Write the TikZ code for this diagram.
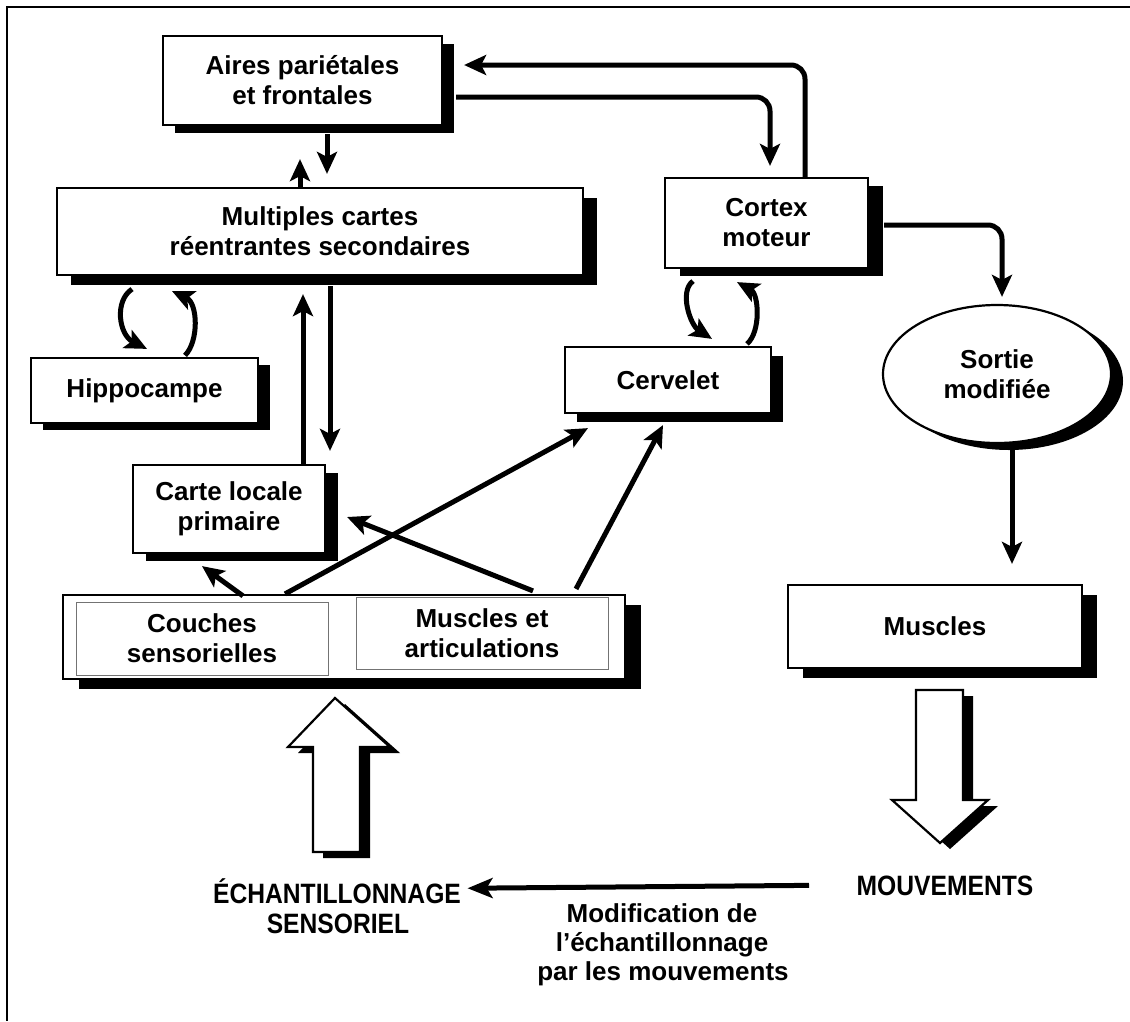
\documentclass[tikz,border=0pt]{standalone}
\usepackage{fontspec}
\setmainfont{Liberation Sans}
\newfontfamily\condfamily{Liberation Sans}[FakeStretch=0.88]
\usetikzlibrary{arrows.meta,shapes.geometric,shadows,calc}
\newcommand\boxfont{\bfseries\fontsize{26}{30}\selectfont}
\newcommand\capfont{\condfamily\bfseries\fontsize{28}{31}\selectfont}
\begin{document}
\begin{tikzpicture}[x=1pt,y=-1pt,
  box/.style={draw, line width=2.2pt, fill=white, inner sep=0pt, align=center, font=\boxfont},
  shd/.style 2 args={drop shadow={shadow xshift=#1pt, shadow yshift=-#2pt, fill=black, opacity=1}},
  conn/.style={line width=5pt, -{Stealth[length=22pt,width=20pt,inset=5pt]}},
  innerbox/.style={draw=black!55, line width=0.8pt, inner sep=0pt, align=center, font=\boxfont},
  hollow/.style={draw, line width=2.2pt, fill=white, line join=miter},
  txt/.style={inner sep=0pt, anchor=base},
]
\useasboundingbox (0,0) rectangle (1130,1021);
\draw[line width=2.5pt] (1130,7) -- (7,7) -- (7,1021);

% boxes
\node[box, shd={12}{8}, minimum width=279pt, minimum height=89pt] (aires) at (302.5,80.5) {Aires pariétales\\et frontales};
\node[box, shd={14}{10}, minimum width=526pt, minimum height=87pt] (multi) at (320,231.5) {Multiples cartes\\réentrantes secondaires};
\node[box, shd={12}{7}, minimum width=227pt, minimum height=65pt] (hippo) at (144.5,390.5) {Hippocampe};
\node[box, shd={13}{8}, minimum width=192pt, minimum height=88pt] (carte) at (229,509) {Carte locale\\primaire};
\node[box, shd={16}{10}, minimum width=562pt, minimum height=84pt] (bottom) at (344,637) {};
\node[innerbox, minimum width=252pt, minimum height=73pt] (couches) at (202,638.5) {Couches\\sensorielles};
\node[innerbox, minimum width=252pt, minimum height=72pt] (musart) at (482,633) {Muscles et\\articulations};
\node[box, shd={15}{8}, minimum width=203pt, minimum height=90pt] (cortex) at (766.5,223) {Cortex\\moteur};
\node[box, shd={12}{9}, minimum width=206pt, minimum height=66pt] (cervelet) at (668,380) {Cervelet};
\node[box, ellipse, shd={12}{7}, minimum width=228pt, minimum height=138pt] (sortie) at (997,374) {Sortie\\modifiée};
\node[box, shd={15}{10}, minimum width=294pt, minimum height=83pt] (muscles) at (935,626.5) {Muscles};

% bottom texts
\node[txt, font=\capfont] (ech1) at (337,903) {ÉCHANTILLONNAGE};
\node[txt, font=\capfont] (ech2) at (338,933) {SENSORIEL};
\node[txt, font=\capfont] (mouv) at (945,895) {MOUVEMENTS};
\node[txt, font=\boxfont] (mod1) at (662,922) {Modification de};
\node[txt, font=\boxfont] (mod2) at (662,951) {l’échantillonnage};
\node[txt, font=\boxfont] (mod3) at (663,980) {par les mouvements};

% aires <-> multi
\draw[conn] ($(multi.north)+(-20,0)$) -- ($(aires.south)+(-2.5,33)$);
\draw[conn] ($(aires.south)+(24.5,8)$) -- ($(multi.north)+(7,-13)$);

% top loops
\draw[conn, rounded corners=14pt] ($(cortex.north)+(38.5,0)$) |- ($(aires.east)+(21,-15.5)$);
\draw[conn, rounded corners=14pt] ($(aires.east)+(13,16.5)$) -| ($(cortex.north)+(3.5,-11)$);
\draw[conn, rounded corners=14pt] ($(cortex.east)+(15,2)$) -| ($(sortie.north)+(5,-7)$);
\draw[conn] ($(sortie.south)+(15,4)$) -- ($(muscles.north)+(77,-20)$);

% multi <-> carte
\draw[conn] ($(multi.south)+(10,10)$) -- ($(carte.north)+(101,-13)$);
\draw[conn] ($(carte.north)+(74,0)$) -- ($(multi.south)+(-17,18)$);

% hippocampe curls
\draw[conn] ($(multi.south)+(-188,13)$) .. controls +(-18,12) and +(-28,-14) .. ($(hippo.north)+(2.5,-8)$);
\draw[conn] ($(hippo.north)+(40.5,-1.5)$) .. controls +(14,-14) and +(26,12) .. ($(multi.south)+(-148,15)$);

% cortex <-> cervelet curls
\draw[conn] ($(cortex.south)+(-73.5,12)$) .. controls +(-14,10) and +(-22,-14) .. ($(cervelet.north)+(44,-7)$);
\draw[conn] ($(cervelet.north)+(79,-2)$) .. controls +(14,-12) and +(22,12) .. ($(cortex.south)+(-29.5,13)$);

% from bottom box
\draw[conn] ($(bottom.north)+(-101,2)$) -- ($(carte.south)+(-27,12)$);
\draw[conn] ($(bottom.north)+(-59,0)$) -- ($(cervelet.south)+(-80,14)$);
\draw[conn] ($(bottom.north)+(189,-3)$) -- ($(carte.east)+(21,8)$);
\draw[conn] ($(bottom.north)+(232,-5)$) -- ($(cervelet.south)+(-5,11)$);

% horizontal arrow
\draw[line width=5pt, -{Stealth[length=25pt,width=20pt,inset=6pt]}] ($(mouv.west)+(-47.5,0)$) -- ($(ech1.east)+(6.5,-2.5)$);

% big hollow arrows
\draw[hollow, shd={10}{6}] (313,852) -- (313,747) -- (288,747) -- (335,698) -- (390,747) -- (360,747) -- (360,852) -- cycle;
\draw[hollow, shd={10}{6}] (916,690) -- (963,690) -- (963,800) -- (988,800) -- (940,843) -- (892,800) -- (916,800) -- cycle;
\end{tikzpicture}
\end{document}
